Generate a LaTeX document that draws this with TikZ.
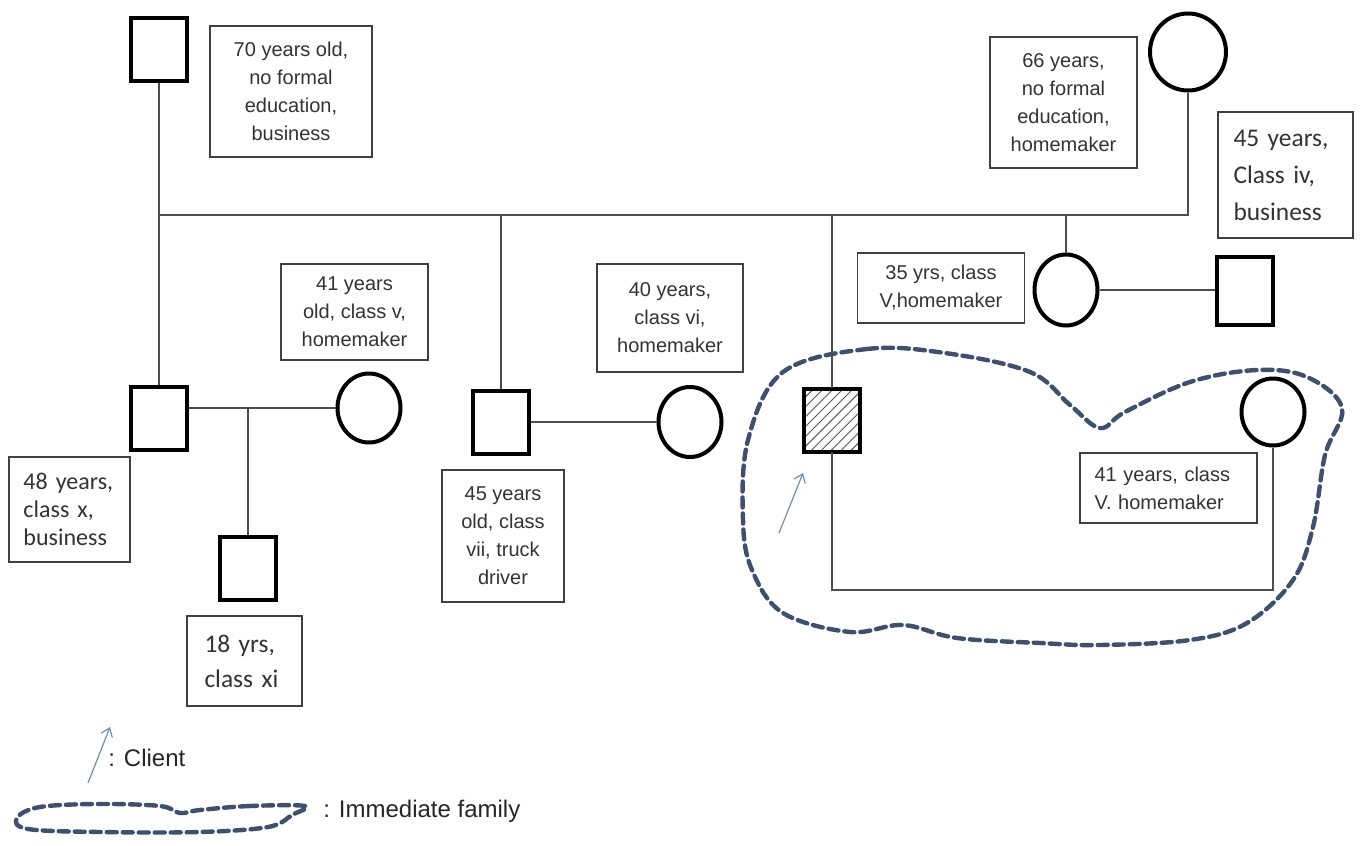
\documentclass[tikz,border=0pt]{standalone}
\usepackage{fontspec}
\setmainfont{Liberation Sans}
\newfontfamily\calib{Carlito}
\usetikzlibrary{shapes.geometric, patterns.meta, arrows.meta}
\definecolor{famblue}{RGB}{62,80,110}
\definecolor{clientblue}{RGB}{112,142,176}

\begin{document}
\begin{tikzpicture}[x=0.5pt, y=-0.5pt,
  male/.style={draw, line width=2pt, minimum width=28pt, minimum height=31.5pt, inner sep=0pt},
  female/.style={draw, ellipse, line width=2pt, minimum width=31.5pt, minimum height=35pt, inner sep=0pt},
  info/.style={draw=black!75, line width=0.7pt, text=black!80, font=\fontsize{10}{14}\selectfont, align=center, inner sep=0pt},
  lbox/.style={info, align=left, inner ysep=0pt},
  link/.style={draw=black!70, line width=0.8pt},
  famline/.style={draw=famblue, line width=2.2pt, dash pattern=on 5pt off 3pt, line cap=round},
  pointer/.style={draw=clientblue, line width=0.6pt, -{Straight Barb[length=4pt, width=6pt]}},
  legend/.style={anchor=west, inner sep=0pt, text=black!85, font=\fontsize{12}{14}\selectfont}]
\useasboundingbox[fill=white] (0,0) rectangle (1361,846);
\node[male] (gf) at (159,49) {};
\node[female, minimum width=38pt, minimum height=38.5pt] (gm) at (1188,52) {};
\node[male] (s1) at (159,418) {};
\node[female, minimum height=34.5pt] (w1) at (369,408) {};
\node[male] (c1) at (248,568) {};
\node[male] (s2) at (501,422) {};
\node[female] (w2) at (690,422) {};
\node[male, pattern={Lines[angle=45, distance=3.5pt, line width=0.45pt]}, pattern color=black!65] (cl) at (832,420) {};
\node[female, minimum height=33.5pt] (w3) at (1273,412) {};
\node[female, minimum height=35.5pt] (d1) at (1066,290) {};
\node[male, minimum height=34pt] (h1) at (1245,291) {};

\node[info, minimum width=81pt, minimum height=65.5pt] (t1) at (291,91.5) {70 years old,\\ no formal\\ education,\\ business};
\node[info, minimum width=73.5pt, minimum height=65.5pt] (t2) at (1063.5,102.5) {66 years,\\ no formal\\ education,\\ homemaker};
\node[lbox, text width=52pt, inner xsep=7.75pt, minimum height=63pt, font=\calib\fontsize{12.7}{18.5}\selectfont] (t3) at (1285.5,175) {45 years,\\ Class iv,\\ business};
\node[info, minimum width=83.5pt, minimum height=35pt] (t4) at (941,288) {35 yrs, class\\ V,homemaker};
\node[info, minimum width=73.5pt, minimum height=48pt] (t5) at (354.5,312) {41 years\\ old, class v,\\ homemaker};
\node[lbox, text width=46pt, inner xsep=7.25pt, minimum height=52.5pt, font=\calib\fontsize{12}{14}\selectfont] (t6) at (69.5,509.5) {48 years,\\ class x,\\ business};
\node[lbox, text width=40pt, inner xsep=8.75pt, minimum height=45pt, font=\calib\fontsize{12.7}{17.5}\selectfont] (t7) at (244.5,661) {18 yrs,\\ class xi};
\node[info, minimum width=73pt, minimum height=54pt] (t8) at (670,318) {40 years,\\ class vi,\\ homemaker};
\node[info, minimum width=61pt, minimum height=66pt] (t9) at (503,536) {45 years\\ old, class\\ vii, truck\\ driver};
\node[lbox, text width=74pt, inner xsep=7.25pt, minimum height=35pt] (t10) at (1168.5,488) {41 years, class\\ V. homemaker};

\coordinate (bar) at (0,215);
\coordinate (base) at (0,590);
\draw[link] (gf.south) -- (s1.north);
\draw[link] (gm.south) |- (gf.south |- bar);
\draw[link] (s2.north) -- (s2.north |- bar);
\draw[link] (cl.north) -- (cl.north |- bar);
\draw[link] (d1.north) -- (d1.north |- bar);
\draw[link] (s1.east |- w1.west) -- (w1.west);
\draw[link] (c1.north) -- (c1.north |- w1.west);
\draw[link] (s2) -- (w2);
\draw[link] (d1.east) -- (d1.east -| h1.west);
\draw[link] (cl.south) |- (w3.south |- base) -- (w3.south);

\draw[famline] plot[smooth cycle, tension=0.6] coordinates {(783,372) (867,349) (945,353) (1030,372) (1070,405) (1100,428) (1125,412) (1190,382) (1257,370) (1307,377) (1342,408) (1325,455) (1313,527) (1293,580) (1247,623) (1190,640) (1100,645) (1040,643) (957,638) (903,625) (850,632) (783,613) (752,570) (743,520) (748,440)};
\coordinate (ca) at (779,533);
\coordinate (cb) at (803,473);
\draw[pointer] (ca) -- (cb);

\coordinate (la) at (88,783);
\coordinate (lb) at (110,727);
\draw[pointer] (la) -- (lb);
\node[legend] (lcl) at (108,758) {: Client};
\draw[famline] plot[smooth cycle, tension=0.6] coordinates {(305,806) (250,806) (200,810) (180,813) (160,806) (100,804) (40,807) (17,818) (28,829) (100,832) (200,832) (268,827) (292,815)};
\node[legend] (lfam) at (323,811) {: Immediate family};
\end{tikzpicture}
\end{document}
